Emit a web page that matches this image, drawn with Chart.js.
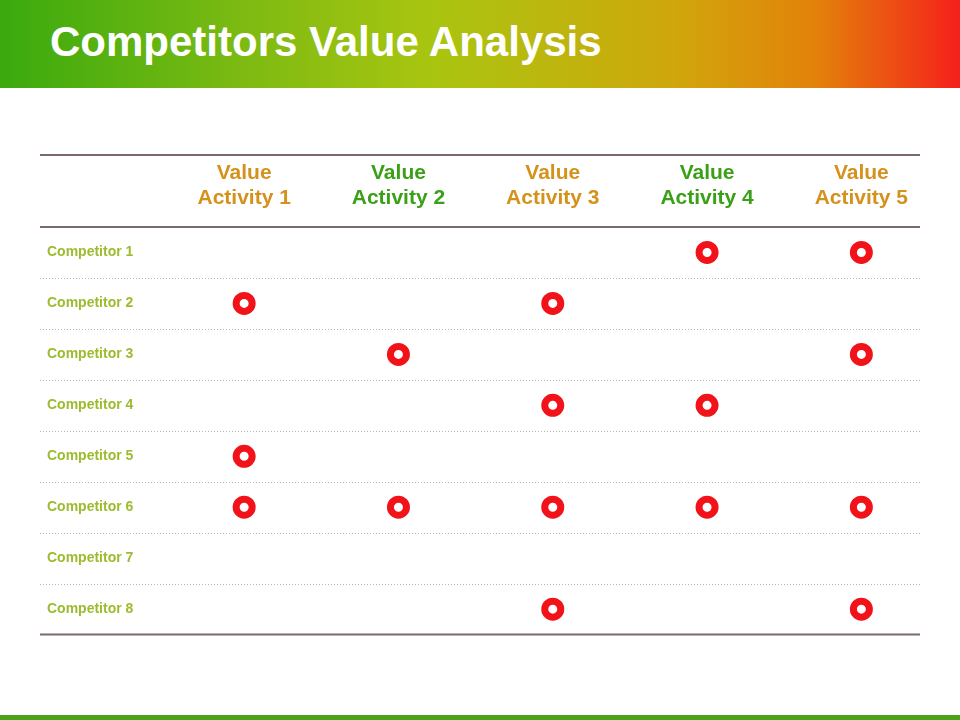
<!DOCTYPE html>
<html>
<head>
<meta charset="utf-8">
<script src="https://cdn.jsdelivr.net/npm/chart.js@4.4.0/dist/chart.umd.min.js"></script>
<style>
  body { margin:0; width:960px; height:720px; background:#fff; position:relative; overflow:hidden; font-family:Arial,"Liberation Sans",sans-serif; }
  .banner { position:absolute; left:0; top:0; width:960px; height:88px;
    background:linear-gradient(90deg,#3aaa0e 0%,#7cba12 25%,#a9c510 45%,#cfa70c 70%,#e3820a 85%,#f5201c 100%); }
  .banner h1 { margin:0; position:absolute; left:50px; top:18px; color:#fff; font-size:42px; font-weight:bold; }
  .topline { position:absolute; left:40px; top:154px; width:880px; height:2px; background:#7a6970; }
  .footer { position:absolute; left:0; top:715px; width:960px; height:5px; background:#4aa31a; }
  #chart { position:absolute; left:40px; top:156px; }
</style>
</head>
<body>
<div class="banner"><h1>Competitors Value Analysis</h1></div>
<div class="topline"></div>
<canvas id="chart" width="895" height="494"></canvas>
<div class="footer"></div>
<script>
const activities = [['Value','Activity 1'],['Value','Activity 2'],['Value','Activity 3'],['Value','Activity 4'],['Value','Activity 5']];
const activityColors = ['#d4921c','#3aa017','#d4921c','#3aa017','#d4921c'];
const competitors = ['Competitor 1','Competitor 2','Competitor 3','Competitor 4','Competitor 5','Competitor 6','Competitor 7','Competitor 8'];
// 1 = competitor covers the value activity
const comp1 = [0,0,0,1,1];
const comp2 = [1,0,1,0,0];
const comp3 = [0,1,0,0,1];
const comp4 = [0,0,1,1,0];
const comp5 = [1,0,0,0,0];
const comp6 = [1,1,1,1,1];
const comp7 = [0,0,0,0,0];
const comp8 = [0,0,1,0,1];
const matrix = [comp1,comp2,comp3,comp4,comp5,comp6,comp7,comp8];

const points = [];
matrix.forEach((row, r) => row.forEach((v, c) => { if (v) points.push({ x: c, y: r }); }));

const rowLines = {
  id: 'rowLines',
  afterDatasetsDraw(chart) {
    const { ctx, chartArea: a, scales: { y } } = chart;
    ctx.save();
    ctx.strokeStyle = '#b8b8b8'; ctx.lineWidth = 1; ctx.setLineDash([1, 2]);
    for (let k = 0; k < competitors.length - 1; k++) {
      const py = Math.round(y.getPixelForValue(k + 0.5)) + 0.5;
      ctx.beginPath(); ctx.moveTo(0, py); ctx.lineTo(880, py); ctx.stroke();
    }
    ctx.setLineDash([]); ctx.strokeStyle = '#7a6970'; ctx.lineWidth = 2;
    [a.top, a.bottom].forEach(py => { ctx.beginPath(); ctx.moveTo(0, py); ctx.lineTo(880, py); ctx.stroke(); });
    ctx.restore();
  }
};

new Chart(document.getElementById('chart'), {
  type: 'scatter',
  data: { datasets: [{ data: points, pointStyle: 'circle', pointRadius: 8, pointHoverRadius: 8,
    backgroundColor: '#fff', borderColor: '#f2121a', borderWidth: 7 }] },
  options: {
    responsive: false, devicePixelRatio: 1, animation: false,
    layout: { padding: { left: 7 } },
    plugins: { legend: { display: false }, tooltip: { enabled: false } },
    scales: {
      x: {
        type: 'linear', position: 'top', min: -0.5, max: 4.38,
        afterBuildTicks: s => { s.ticks = activities.map((_, i) => ({ value: i })); },
        afterFit: s => { s.height = 71; },
        grid: { display: false }, border: { display: false },
        ticks: { callback: v => activities[v], color: c => activityColors[c.index],
          font: { family: 'Arial', size: 21, weight: 'bold' }, padding: 8, maxRotation: 0 }
      },
      y: {
        type: 'linear', reverse: true, min: -0.5, max: 7.5,
        afterBuildTicks: s => { s.ticks = competitors.map((_, i) => ({ value: i })); },
        afterFit: s => { s.width = 120; },
        grid: { display: false }, border: { display: false },
        ticks: { callback: v => competitors[v], color: '#9cbc2e', crossAlign: 'far', padding: 7,
          font: { family: 'Arial', size: 14, weight: 'bold' } }
      }
    }
  },
  plugins: [rowLines]
});
</script>
</body>
</html>
